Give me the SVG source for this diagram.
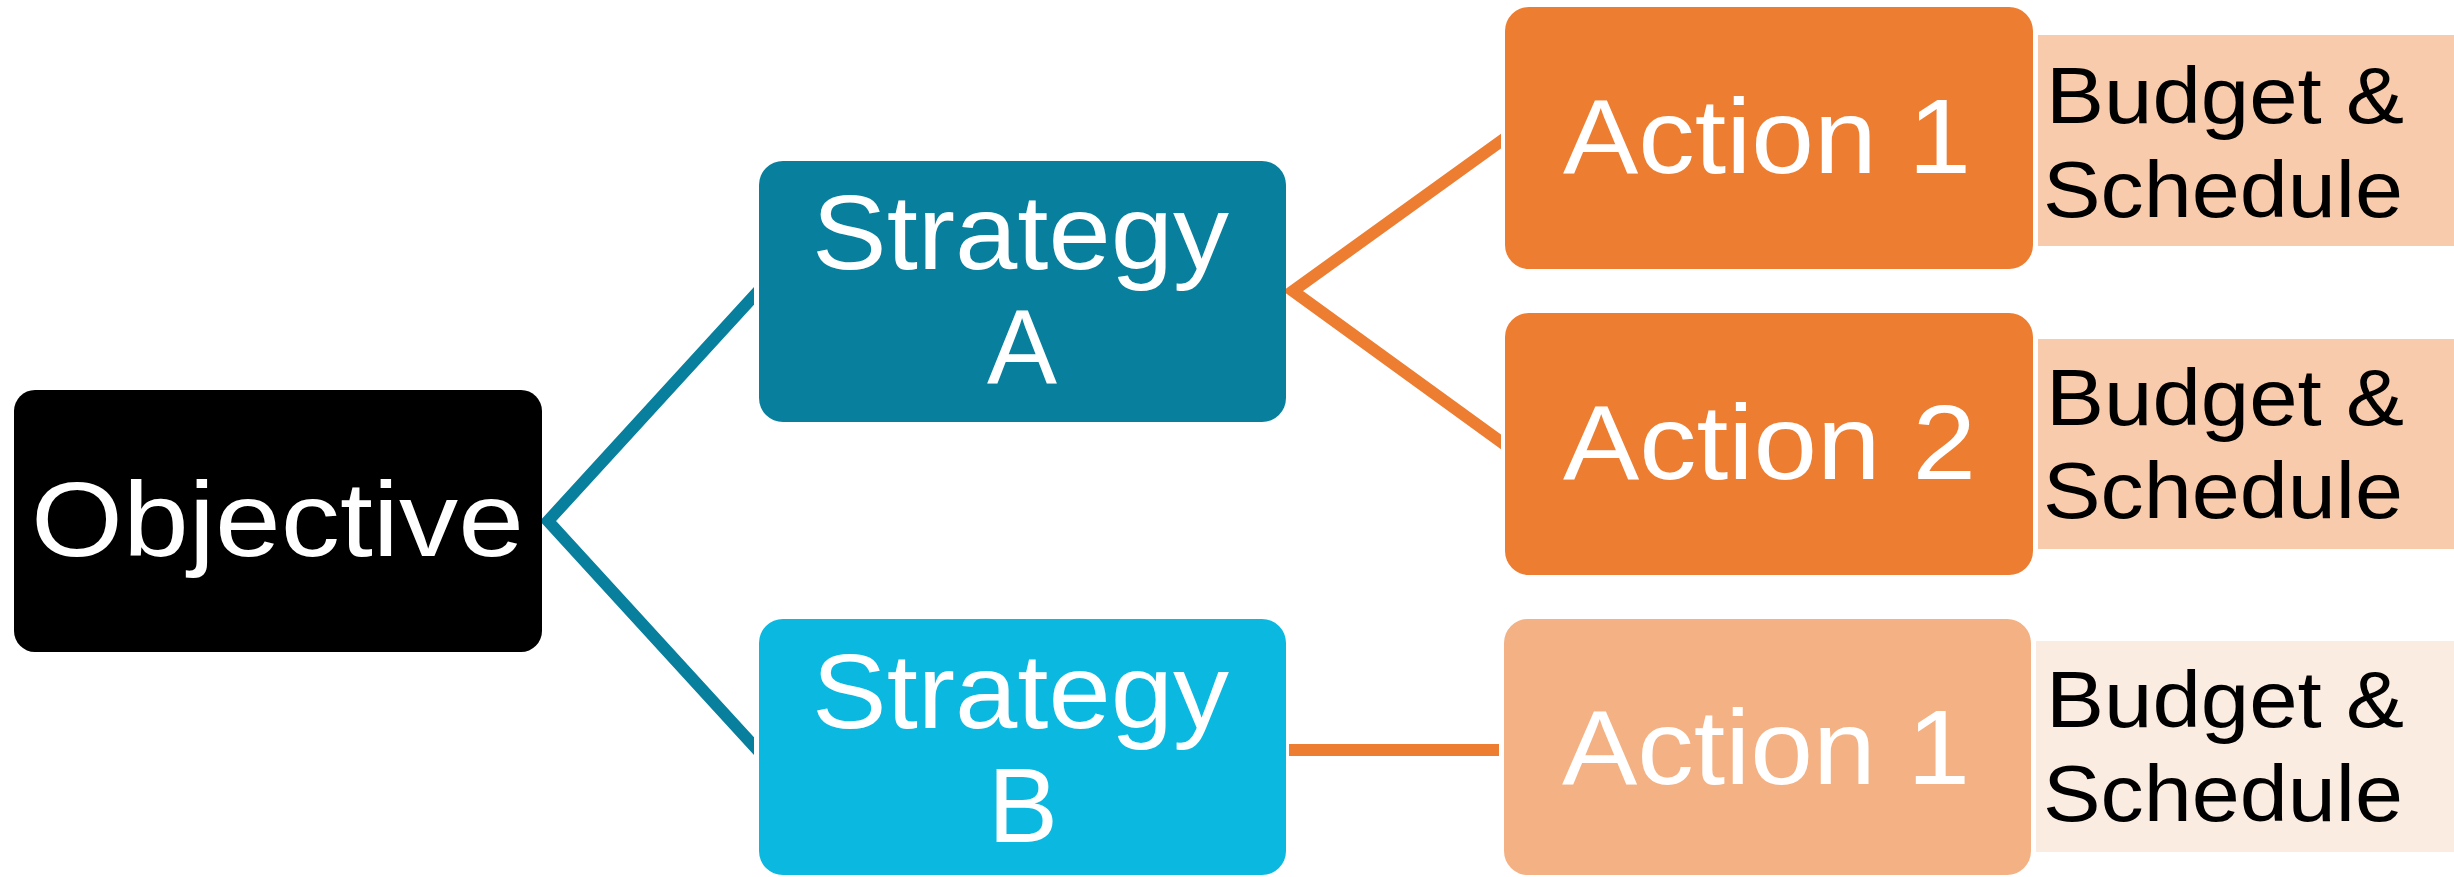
<svg xmlns="http://www.w3.org/2000/svg" width="2454" height="877" viewBox="0 0 2454 877">
  <style>
    .lbl { font-family: "Liberation Sans", Arial, sans-serif; fill: #FFFFFF; }
    .big { font-size: 105px; }
    .small { font-family: "Liberation Sans", Arial, sans-serif; font-size: 80px; fill: #000000; }
    .teal { fill: none; stroke: #08809D; stroke-width: 12; stroke-linejoin: miter; }
    .orange { fill: none; stroke: #ED7D31; stroke-width: 12; stroke-linejoin: miter; }
  </style>
  <defs>
    <clipPath id="clipTeal"><rect x="0" y="0" width="754" height="877"/></clipPath>
    <clipPath id="clipOrange"><rect x="0" y="0" width="1501" height="877"/></clipPath>
  </defs>
  <rect x="0" y="0" width="2454" height="877" fill="#FFFFFF"/>

  <g id="connectors">
    <polyline class="teal" clip-path="url(#clipTeal)" points="770,278.5 548,521 770,763.5"/>
    <polyline class="orange" clip-path="url(#clipOrange)" points="1515,131 1293,291 1515,452"/>
    <rect x="1289" y="744" width="210" height="12" fill="#ED7D31"/>
  </g>

  <g id="objective">
    <rect x="14" y="390" width="528" height="262" rx="21" ry="21" fill="#000000"/>
    <text class="lbl big" x="31" y="556" textLength="493" lengthAdjust="spacingAndGlyphs">Objective</text>
  </g>

  <g id="strategyA">
    <rect x="759" y="161" width="527" height="261" rx="24" ry="24" fill="#08809D"/>
    <text class="lbl big" x="812" y="269" textLength="417" lengthAdjust="spacingAndGlyphs">Strategy</text>
    <text class="lbl big" x="1022" y="383" text-anchor="middle">A</text>
  </g>

  <g id="strategyB">
    <rect x="759" y="619" width="527" height="256" rx="24" ry="24" fill="#0BB8E0"/>
    <text class="lbl big" x="812" y="728" textLength="417" lengthAdjust="spacingAndGlyphs">Strategy</text>
    <text class="lbl big" x="1023" y="842" text-anchor="middle">B</text>
  </g>

  <g id="actionA1">
    <rect x="1505" y="7" width="528" height="262" rx="24" ry="24" fill="#ED7D31"/>
    <text class="lbl big" x="1563" y="173" textLength="408" lengthAdjust="spacingAndGlyphs">Action 1</text>
  </g>

  <g id="actionA2">
    <rect x="1505" y="313" width="528" height="262" rx="24" ry="24" fill="#ED7D31"/>
    <text class="lbl big" x="1563" y="479" textLength="413" lengthAdjust="spacingAndGlyphs">Action 2</text>
  </g>

  <g id="actionB1">
    <rect x="1504" y="619" width="527" height="256" rx="24" ry="24" fill="#F4B183"/>
    <text class="lbl big" x="1562" y="784" textLength="408" lengthAdjust="spacingAndGlyphs">Action 1</text>
  </g>

  <g id="budgetA1">
    <rect x="2038" y="35" width="416" height="211" fill="#F8CBAD"/>
    <text class="small" x="2046" y="123" textLength="358" lengthAdjust="spacingAndGlyphs">Budget &amp;</text>
    <text class="small" x="2043" y="217" textLength="360" lengthAdjust="spacingAndGlyphs">Schedule</text>
  </g>

  <g id="budgetA2">
    <rect x="2038" y="339" width="416" height="210" fill="#F8CBAD"/>
    <text class="small" x="2046" y="425" textLength="358" lengthAdjust="spacingAndGlyphs">Budget &amp;</text>
    <text class="small" x="2043" y="518" textLength="360" lengthAdjust="spacingAndGlyphs">Schedule</text>
  </g>

  <g id="budgetB1">
    <rect x="2036" y="641" width="418" height="211" fill="#FBECE2"/>
    <text class="small" x="2046" y="727" textLength="358" lengthAdjust="spacingAndGlyphs">Budget &amp;</text>
    <text class="small" x="2043" y="821" textLength="360" lengthAdjust="spacingAndGlyphs">Schedule</text>
  </g>
</svg>
